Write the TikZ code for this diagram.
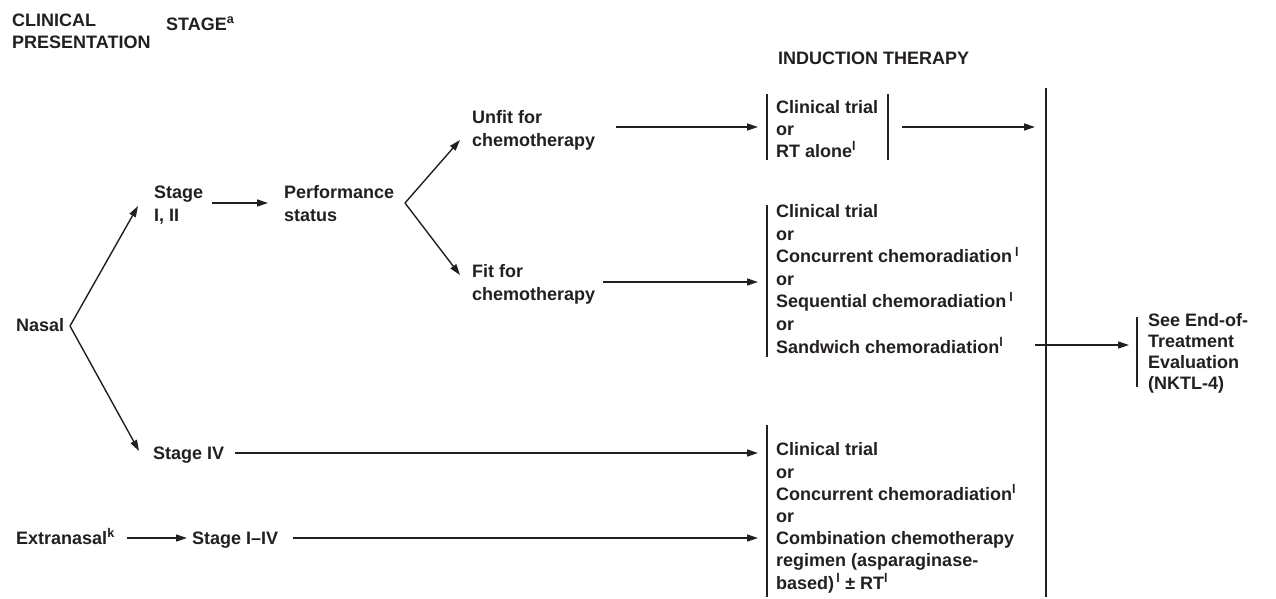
\documentclass[tikz,border=0pt]{standalone}
\usepackage{fontspec}
\setmainfont{Liberation Sans}
\usetikzlibrary{arrows.meta}
\definecolor{ink}{HTML}{231F20}
\begin{document}
\begin{tikzpicture}[x=1pt,y=-1pt,
  txt/.style={anchor=base west, inner sep=0pt, align=left, font=\fontsize{18}{22.6}\selectfont\bfseries, text=ink},
  arr/.style={draw=ink, line width=1.4pt, -{Triangle[length=11pt,width=7pt]}},
  bar/.style={draw=ink, line width=1.6pt}]
\useasboundingbox (0,0) rectangle (1276,598);
% headers (anchor = baseline of last line)
\node[txt, font=\fontsize{18}{22}\selectfont\bfseries] (hcp) at (12,48) {CLINICAL\\PRESENTATION};
\node[txt] (hst) at (166,30) {STAGE\textsuperscript{a}};
\node[txt] (hit) at (778,64) {INDUCTION THERAPY};
% nodes
\node[txt] (nasal) at (16,331) {Nasal};
\node[txt] (s12) at (154,221) {Stage\\I, II};
\node[txt] (perf) at (284,221) {Performance\\status};
\node[txt] (unfit) at (472,146) {Unfit for\\chemotherapy};
\node[txt] (fit) at (472,300) {Fit for\\chemotherapy};
\node[txt, font=\fontsize{18}{21.8}\selectfont\bfseries] (b1) at (776,157) {Clinical trial\\or\\RT alone\textsuperscript{l}};
\node[txt] (b2) at (776,353) {Clinical trial\\or\\Concurrent chemoradiation\,\textsuperscript{l}\\or\\Sequential chemoradiation\,\textsuperscript{l}\\or\\Sandwich chemoradiation\textsuperscript{l}};
\node[txt, font=\fontsize{18}{21}\selectfont\bfseries] (see) at (1148,389) {See End-of-\\Treatment\\Evaluation\\(NKTL-4)};
\node[txt] (s4) at (153,459) {Stage IV};
\node[txt] (extra) at (16,544) {Extranasal\textsuperscript{k}};
\node[txt] (s14) at (192,544) {Stage I–IV};
\node[txt, font=\fontsize{18}{22.2}\selectfont\bfseries] (b3) at (776,589) {Clinical trial\\or\\Concurrent chemoradiation\textsuperscript{l}\\or\\Combination chemotherapy\\regimen (asparaginase-\\based)\textsuperscript{\,l} ± RT\textsuperscript{l}};
% bars
\draw[bar] (767,94) -- (767,160);
\draw[bar] (888,94) -- (888,160);
\draw[bar] (767,205) -- (767,357);
\draw[bar] (767,425) -- (767,597);
\draw[bar] (1046,88) -- (1046,597);
\draw[bar] (1137,317) -- (1137,387);
% connector points
\coordinate (nb) at (70,326);
\coordinate (s12in) at (138,206);
\coordinate (s4in) at (139,451);
\coordinate (s12out) at (212,203);
\coordinate (perfin) at (268,203);
\coordinate (pb) at (405,203);
\coordinate (unfitin) at (460,140);
\coordinate (fitin) at (460,275);
\coordinate (unfitout) at (616,127);
\coordinate (b1in) at (758,127);
\coordinate (b1out) at (902,127);
\coordinate (bigin) at (1035,127);
\coordinate (fitout) at (603,282);
\coordinate (b2in) at (758,282);
\coordinate (bigout) at (1035,345);
\coordinate (seein) at (1129,345);
\coordinate (s4out) at (235,453);
\coordinate (b3ina) at (758,453);
\coordinate (extraout) at (127,538);
\coordinate (s14in) at (187,538);
\coordinate (s14out) at (293,538);
\coordinate (b3inb) at (758,538);
% connectors
\draw[arr] (nb) -- (s12in);
\draw[arr] (nb) -- (s4in);
\draw[arr] (s12out) -- (perfin);
\draw[arr] (pb) -- (unfitin);
\draw[arr] (pb) -- (fitin);
\draw[arr] (unfitout) -- (b1in);
\draw[arr] (b1out) -- (bigin);
\draw[arr] (fitout) -- (b2in);
\draw[arr] (bigout) -- (seein);
\draw[arr] (s4out) -- (b3ina);
\draw[arr] (extraout) -- (s14in);
\draw[arr] (s14out) -- (b3inb);
\end{tikzpicture}
\end{document}
